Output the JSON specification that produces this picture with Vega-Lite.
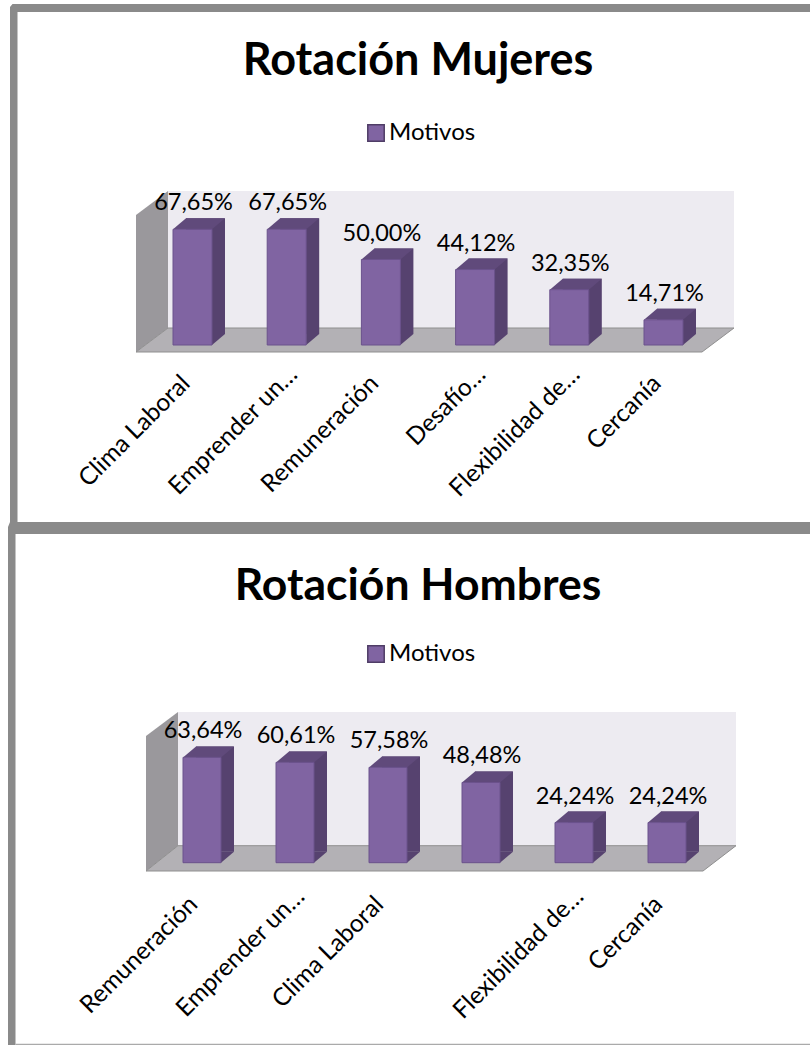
{"$schema":"https://vega.github.io/schema/vega-lite/v6.json","padding":0,"spacing":0,"bounds":"flush","background":"white","config":{"view":{"stroke":null},"font":"Lato"},
"resolve":{"scale":{"color":"independent"},"legend":{"color":"independent"}},
"vconcat":[
{"width":810,"height":522,
"title":{"text":"Rotación Mujeres","font":"Lato","fontSize":45,"fontWeight":"bold","color":"#000000","anchor":"middle","dx":13,"offset":-84},
"data":{"values":[{"motivo":"Clima Laboral","valor":67.65,"etiqueta":"67,65%"},{"motivo":"Emprender un…","valor":67.65,"etiqueta":"67,65%"},{"motivo":"Remuneración","valor":50.0,"etiqueta":"50,00%"},{"motivo":"Desafío…","valor":44.12,"etiqueta":"44,12%"},{"motivo":"Flexibilidad de…","valor":32.35,"etiqueta":"32,35%"},{"motivo":"Cercanía","valor":14.71,"etiqueta":"14,71%"}]},
"encoding":{"x":{"field":"motivo","type":"nominal","sort":null,"scale":{"type":"point","padding":0,"domain":["Clima Laboral","Emprender un…","Remuneración","Desafío…","Flexibilidad de…","Cercanía"],"range":[192.5,663.5]},"axis":{"title":null,"domain":false,"ticks":false,"grid":false,"offset":-167,"labelAngle":-45,"labelFont":"Lato","labelFontSize":24.5,"labelColor":"#000000","labelPadding":{"condition":{"test":"indexof(datum.label,'…')<0","value":16},"value":7},"labelOffset":{"condition":{"test":"indexof(datum.label,'…')<0","value":-15},"value":-2},"labelLimit":300,"labelOverlap":false}},
"y":{"type":"quantitative","scale":{"domain":[0,100],"range":[345,174]},"axis":null}},
"layer":[
{"transform":[{"filter":"datum.motivo==='Clima Laboral'"}],"mark":{"type":"point","filled":true,"opacity":1,"size":4,"fill":"#8a8a8a","strokeWidth":0,"shape":"M-182.5,177 L-182.5,-338 L-180,-341 L617.5,-341 L617.5,-333 L-175,-333 L-175,177 Z"},"encoding":{"y":{"datum":0,"type":"quantitative"}}},
{"transform":[{"filter":"datum.motivo==='Clima Laboral'"}],"mark":{"type":"point","filled":true,"opacity":1,"size":4,"fill":"#edebf1","strokeWidth":0,"shape":"M-24.5,-154 L541.5,-154 L541.5,-17 L-24.5,-17 Z"},"encoding":{"y":{"datum":0,"type":"quantitative"}}},
{"transform":[{"filter":"datum.motivo==='Clima Laboral'"}],"mark":{"type":"point","filled":true,"opacity":1,"size":4,"fill":"#9a989c","strokeWidth":0,"shape":"M-56.5,-130 L-24.5,-154 L-24.5,-17 L-56.5,7 Z"},"encoding":{"y":{"datum":0,"type":"quantitative"}}},
{"transform":[{"filter":"datum.motivo==='Clima Laboral'"}],"mark":{"type":"point","filled":true,"opacity":1,"size":4,"fill":"#b3b1b5","stroke":"#8f8f8f","strokeWidth":1,"shape":"M-56.5,7 L509.5,7 L541.5,-17 L-24.5,-17 Z"},"encoding":{"y":{"datum":0,"type":"quantitative"}}},
{"mark":{"type":"bar","width":39,"xOffset":13,"yOffset":-11,"fill":"#56426f"},"encoding":{"y":{"field":"valor","type":"quantitative"}}},
{"mark":{"type":"point","filled":true,"opacity":1,"size":4,"fill":"#56426f","strokeWidth":0,"shape":"M19.5,0 L32.5,-11 L19.5,-11 Z"},"encoding":{"y":{"datum":0,"type":"quantitative"}}},
{"mark":{"type":"point","filled":true,"opacity":1,"size":4,"fill":"#604a7b","strokeWidth":0,"shape":"M-19.5,0 L-6.5,-11 L32.5,-11 L19.5,0 Z"},"encoding":{"y":{"field":"valor","type":"quantitative"}}},
{"mark":{"type":"bar","width":39,"stroke":"#6b528c","strokeWidth":1},"encoding":{"y":{"field":"valor","type":"quantitative"},"color":{"datum":"Motivos","scale":{"domain":["Motivos"],"range":["#8064a2"]},"legend":{"orient":"none","legendX":364,"legendY":121,"title":null,"symbolType":"square","symbolSize":270,"symbolStrokeColor":"#4f3d66","symbolStrokeWidth":1.5,"labelFont":"Lato","labelFontSize":24,"labelOffset":1,"labelColor":"#000000"}}}},
{"mark":{"type":"text","font":"Lato","fontSize":23.5,"color":"#000000","dx":1,"dy":-26,"baseline":"middle","align":"center"},"encoding":{"y":{"field":"valor","type":"quantitative"},"text":{"field":"etiqueta"}}}
]},
{"width":810,"height":523,
"title":{"text":"Rotación Hombres","font":"Lato","fontSize":44.5,"fontWeight":"bold","color":"#000000","anchor":"middle","dx":13,"offset":-87},
"data":{"values":[{"motivo":"Remuneración","valor":63.64,"etiqueta":"63,64%"},{"motivo":"Emprender un…","valor":60.61,"etiqueta":"60,61%"},{"motivo":"Clima Laboral","valor":57.58,"etiqueta":"57,58%"},{"motivo":" ","valor":48.48,"etiqueta":"48,48%"},{"motivo":"Flexibilidad de…","valor":24.24,"etiqueta":"24,24%"},{"motivo":"Cercanía","valor":24.24,"etiqueta":"24,24%"}]},
"encoding":{"x":{"field":"motivo","type":"nominal","sort":null,"scale":{"type":"point","padding":0,"domain":["Remuneración","Emprender un…","Clima Laboral"," ","Flexibilidad de…","Cercanía"],"range":[202,667]},"axis":{"title":null,"domain":false,"ticks":false,"grid":false,"offset":-167,"labelAngle":-45,"labelFont":"Lato","labelFontSize":24.5,"labelColor":"#000000","labelPadding":{"condition":{"test":"indexof(datum.label,'…')<0","value":14},"value":6},"labelOffset":{"condition":{"test":"indexof(datum.label,'…')<0","value":-17},"value":-3},"labelLimit":300,"labelOverlap":false}},
"y":{"type":"quantitative","scale":{"domain":[0,100],"range":[340.7,175.2]},"axis":null}},
"layer":[
{"transform":[{"filter":"datum.motivo==='Remuneración'"}],"mark":{"type":"point","filled":true,"opacity":1,"size":4,"fill":"#8a8a8a","strokeWidth":0,"shape":"M-194,182.3 L-194,-335.7 L-192,-340.7 L608,-340.7 L608,-328.7 L-186.5,-328.7 L-186.5,182.3 Z"},"encoding":{"y":{"datum":0,"type":"quantitative"}}},
{"transform":[{"filter":"datum.motivo==='Remuneración'"}],"mark":{"type":"point","filled":true,"opacity":1,"size":4,"fill":"#aaaaaa","strokeWidth":0,"shape":"M-186.5,181 L608,181 L608,182.3 L-186.5,182.3 Z"},"encoding":{"y":{"datum":0,"type":"quantitative"}}},
{"transform":[{"filter":"datum.motivo==='Remuneración'"}],"mark":{"type":"point","filled":true,"opacity":1,"size":4,"fill":"#edebf1","strokeWidth":0,"shape":"M-24,-150.7 L534,-150.7 L534,-17 L-24,-17 Z"},"encoding":{"y":{"datum":0,"type":"quantitative"}}},
{"transform":[{"filter":"datum.motivo==='Remuneración'"}],"mark":{"type":"point","filled":true,"opacity":1,"size":4,"fill":"#9a989c","strokeWidth":0,"shape":"M-56,-126.7 L-24,-150.7 L-24,-17 L-56,8.3 Z"},"encoding":{"y":{"datum":0,"type":"quantitative"}}},
{"transform":[{"filter":"datum.motivo==='Remuneración'"}],"mark":{"type":"point","filled":true,"opacity":1,"size":4,"fill":"#b3b1b5","stroke":"#8f8f8f","strokeWidth":1,"shape":"M-56,8.3 L501,8.3 L534,-17 L-24,-17 Z"},"encoding":{"y":{"datum":0,"type":"quantitative"}}},
{"mark":{"type":"bar","width":38,"xOffset":13,"yOffset":-11,"fill":"#56426f"},"encoding":{"y":{"field":"valor","type":"quantitative"}}},
{"mark":{"type":"point","filled":true,"opacity":1,"size":4,"fill":"#56426f","strokeWidth":0,"shape":"M19,0 L32,-11 L19,-11 Z"},"encoding":{"y":{"datum":0,"type":"quantitative"}}},
{"mark":{"type":"point","filled":true,"opacity":1,"size":4,"fill":"#604a7b","strokeWidth":0,"shape":"M-19,0 L-6,-11 L32,-11 L19,0 Z"},"encoding":{"y":{"field":"valor","type":"quantitative"}}},
{"mark":{"type":"bar","width":38,"stroke":"#6b528c","strokeWidth":1},"encoding":{"y":{"field":"valor","type":"quantitative"},"color":{"datum":"Motivos","scale":{"domain":["Motivos"],"range":["#8064a2"]},"legend":{"orient":"none","legendX":364,"legendY":120,"title":null,"symbolType":"square","symbolSize":270,"symbolStrokeColor":"#4f3d66","symbolStrokeWidth":1.5,"labelFont":"Lato","labelFontSize":24,"labelOffset":1,"labelColor":"#000000"}}}},
{"mark":{"type":"text","font":"Lato","fontSize":23.5,"color":"#000000","dx":1,"dy":-26,"baseline":"middle","align":"center"},"encoding":{"y":{"field":"valor","type":"quantitative"},"text":{"field":"etiqueta"}}}
]}
]}
